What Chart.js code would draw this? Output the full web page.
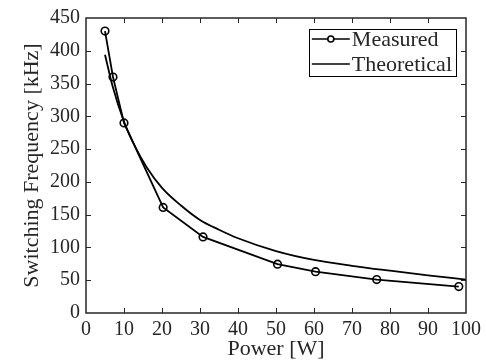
<!DOCTYPE html>
<html>
<head>
<meta charset="utf-8">
<script src="https://cdn.jsdelivr.net/npm/chart.js@4/dist/chart.umd.min.js"></script>
<style>
  html, body { margin: 0; padding: 0; background: #fff; }
  #wrap { width: 486px; height: 362px; }
</style>
</head>
<body>
<div id="wrap"><canvas id="c" width="486" height="362"></canvas></div>
<script>
// ---- data ----
const measuredPower = [5, 7.1, 10, 20.3, 30.8, 50.4, 60.4, 76.5, 98.1];
const measuredFreq  = [430, 360, 290, 161, 116, 74.5, 63, 51, 40.3];
const theoPower = [5, 7, 10, 13, 16, 20, 25, 30, 35, 40, 50, 60, 70, 80, 90, 100];
const theoFreq  = [394, 346, 292, 253, 222, 191, 164, 142, 127, 114, 94.5, 81, 72, 64.5, 57.5, 51];
const seriesLabels = ['Measured', 'Theoretical'];
const xTitle = 'Power [W]';
const yTitle = 'Switching Frequency [kHz]';

const FONT = '"Liberation Serif", "Times New Roman", serif';
const AXIS = '#262626';

const toPts = (xs, ys) => xs.map((x, i) => ({x, y: ys[i]}));

const framePlugin = {
  id: 'frame',
  afterDraw(chart) {
    const {ctx, chartArea: a, scales} = chart;
    ctx.save();
    ctx.strokeStyle = AXIS;
    ctx.lineWidth = 1.5;
    ctx.strokeRect(a.left, a.top, a.right - a.left, a.bottom - a.top);
    const tl = 5;
    ctx.lineWidth = 1;
    ctx.beginPath();
    scales.x.ticks.forEach(t => {
      const px = Math.round(scales.x.getPixelForValue(t.value)) + 0.5;
      if (px <= a.left + 1 || px >= a.right - 1) return;
      ctx.moveTo(px, a.bottom); ctx.lineTo(px, a.bottom - tl);
      ctx.moveTo(px, a.top); ctx.lineTo(px, a.top + tl);
    });
    scales.y.ticks.forEach(t => {
      const py = Math.round(scales.y.getPixelForValue(t.value)) + 0.5;
      if (py <= a.top + 1 || py >= a.bottom - 1) return;
      ctx.moveTo(a.left, py); ctx.lineTo(a.left + tl, py);
      ctx.moveTo(a.right, py); ctx.lineTo(a.right - tl, py);
    });
    ctx.stroke();

    // legend inside plot, top-right
    ctx.font = '22px ' + FONT;
    const labels = chart.data.datasets.map(d => d.label);
    const tw = Math.max(...labels.map(l => ctx.measureText(l).width));
    const boxRight = a.right - 10;
    const boxTop = a.top + 11;
    const rowH = 25;
    const boxH = 47;
    const textX = boxRight - 4 - tw;
    const boxLeft = textX - 43;
    ctx.fillStyle = '#fff';
    ctx.fillRect(boxLeft, boxTop, boxRight - boxLeft, boxH);
    ctx.strokeStyle = '#000';
    ctx.lineWidth = 1;
    ctx.strokeRect(Math.round(boxLeft) + 0.5, boxTop + 0.5, Math.round(boxRight - boxLeft), boxH);
    chart.data.datasets.forEach((d, i) => {
      const cy = boxTop + 10 + i * rowH;
      ctx.strokeStyle = '#000';
      ctx.lineWidth = 1.6;
      ctx.beginPath();
      ctx.moveTo(boxLeft + 3, cy); ctx.lineTo(boxLeft + 41, cy);
      ctx.stroke();
      if (d.pointRadius > 0) {
        ctx.beginPath();
        ctx.arc(boxLeft + 22, cy, 3, 0, Math.PI * 2);
        ctx.fillStyle = '#fff';
        ctx.fill();
        ctx.stroke();
      }
      ctx.fillStyle = AXIS;
      ctx.textBaseline = 'middle';
      ctx.textAlign = 'left';
      ctx.fillText(d.label, textX, cy + 1);
    });
    ctx.restore();
  }
};

new Chart(document.getElementById('c'), {
  type: 'scatter',
  data: {
    datasets: [
      {
        label: seriesLabels[0],
        data: toPts(measuredPower, measuredFreq),
        showLine: true,
        borderColor: '#000',
        backgroundColor: 'rgba(0,0,0,0)',
        borderWidth: 1.8,
        pointRadius: 3.8,
        pointBorderWidth: 1.6,
        pointBorderColor: '#000',
        pointBackgroundColor: 'rgba(0,0,0,0)',
        tension: 0
      },
      {
        label: seriesLabels[1],
        data: toPts(theoPower, theoFreq),
        showLine: true,
        borderColor: '#000',
        borderWidth: 1.8,
        pointRadius: 0,
        cubicInterpolationMode: 'monotone'
      }
    ]
  },
  options: {
    responsive: false,
    animation: false,
    layout: { padding: { left: 0, top: 15, right: 20, bottom: 0 } },
    plugins: { legend: { display: false }, tooltip: { enabled: false } },
    scales: {
      x: {
        type: 'linear', min: 0, max: 100,
        ticks: { stepSize: 10, color: AXIS, font: { family: FONT, size: 20 }, padding: 5, maxRotation: 0 },
        grid: { display: false, drawTicks: false },
        border: { display: false },
        title: { display: true, text: xTitle, color: AXIS, font: { family: FONT, size: 22 }, padding: { top: 0, bottom: 0 } },
        afterFit(s) { s.height = 49; }
      },
      y: {
        type: 'linear', min: 0, max: 450,
        ticks: { stepSize: 50, color: AXIS, font: { family: FONT, size: 20 }, padding: 6 },
        grid: { display: false, drawTicks: false },
        border: { display: false },
        title: { display: true, text: yTitle, color: AXIS, font: { family: FONT, size: 22 }, padding: { top: 19, bottom: 0 } },
        afterFit(s) { s.width = 86; }
      }
    }
  },
  plugins: [framePlugin]
});
</script>
</body>
</html>
